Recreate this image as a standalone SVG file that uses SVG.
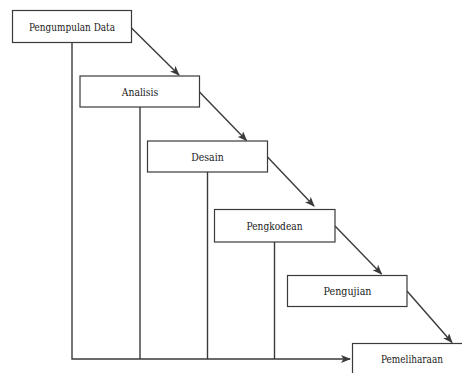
<svg xmlns="http://www.w3.org/2000/svg" width="462" height="373" viewBox="0 0 462 373">
<style>
.box{fill:#fff;stroke:#3a3a3a;stroke-width:1.2}
.lbl{font-family:'DejaVu Serif',serif;font-size:10.5px;fill:#1a1a1a;text-anchor:middle}
.ln{fill:none;stroke:#3a3a3a;stroke-width:1.4}
</style>
<defs>
<marker id="ah" markerWidth="10" markerHeight="8" refX="9" refY="4" orient="auto" markerUnits="userSpaceOnUse">
<path d="M0,0 L10,4 L0,8 L2.5,4 Z" fill="#3a3a3a"/>
</marker>
</defs>
<rect width="462" height="373" fill="#fff"/>
<g id="connectors">
<path class="ln" d="M72,43 V359 H350" marker-end="url(#ah)"/>
<path class="ln" d="M140,107 V359"/>
<path class="ln" d="M207.5,172 V359"/>
<path class="ln" d="M274.5,242 V359"/>
<path class="ln" d="M131.5,28 L179,75" marker-end="url(#ah)"/>
<path class="ln" d="M199.5,92 L246.5,140.5" marker-end="url(#ah)"/>
<path class="ln" d="M267.5,157 L314,206" marker-end="url(#ah)"/>
<path class="ln" d="M335,226 L381.5,274" marker-end="url(#ah)"/>
<path class="ln" d="M407,291 L452,342.5" marker-end="url(#ah)"/>
</g>
<g id="pengumpulan"><rect class="box" x="12.5" y="10.5" width="119" height="32"/><text class="lbl" x="72" y="30.5" textLength="86" lengthAdjust="spacingAndGlyphs">Pengumpulan Data</text></g>
<g id="analisis"><rect class="box" x="80" y="76" width="119.5" height="31"/><text class="lbl" x="140" y="95.5" textLength="36.5" lengthAdjust="spacingAndGlyphs">Analisis</text></g>
<g id="desain"><rect class="box" x="147.5" y="141" width="120" height="31"/><text class="lbl" x="207.5" y="160.5" textLength="32.5" lengthAdjust="spacingAndGlyphs">Desain</text></g>
<g id="pengkodean"><rect class="box" x="214.5" y="209.5" width="120.5" height="32.5"/><text class="lbl" x="274.5" y="229.5" textLength="56" lengthAdjust="spacingAndGlyphs">Pengkodean</text></g>
<g id="pengujian"><rect class="box" x="287.5" y="275.5" width="119.5" height="31"/><text class="lbl" x="347.5" y="295" textLength="48" lengthAdjust="spacingAndGlyphs">Pengujian</text></g>
<g id="pemeliharaan"><rect class="box" x="352.5" y="343.5" width="120" height="40"/><text class="lbl" x="412" y="362.5" textLength="62" lengthAdjust="spacingAndGlyphs">Pemeliharaan</text></g>
</svg>
